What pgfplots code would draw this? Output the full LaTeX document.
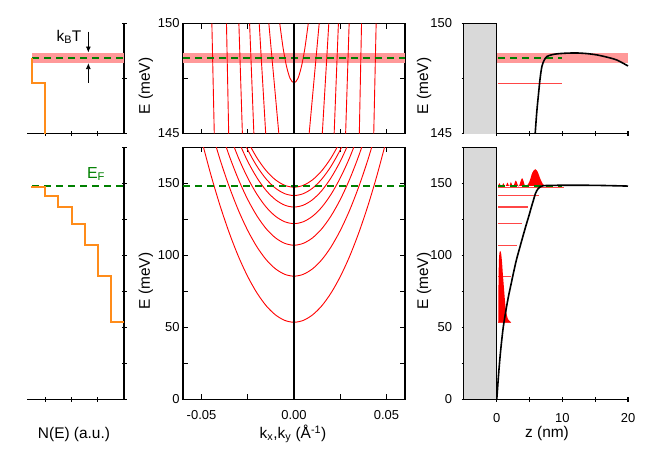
\documentclass[border=0pt]{standalone}
\usepackage{fontspec}
\setmainfont{Liberation Sans}
\usepackage{pgfplots}
\pgfplotsset{compat=1.18}
\usetikzlibrary{arrows.meta}

\definecolor{band}{RGB}{255,153,153}
\definecolor{fermi}{RGB}{0,128,0}
\definecolor{dos}{RGB}{255,140,26}
\definecolor{wall}{RGB}{217,217,217}
\definecolor{lvl}{RGB}{255,0,0}
\definecolor{lvlight}{RGB}{255,70,70}

\pgfplotsset{
  panel/.style={
    scale only axis,
    anchor=south west,
    tick style={black, line width=1.1bp},
    major tick length=5bp,
    tick align=inside,
    tick label style={font=\fontsize{13}{15}\selectfont},
    xticklabel style={yshift=-8bp},
    scaled ticks=false,
    /pgf/number format/assume math mode=true,
  },
  plainlines/.style={axis line style={-, line width=1.3bp}},
  ef/.style={draw=fermi, line width=2bp, dash pattern=on 7bp off 5bp},
  sub/.style={color=lvl, line width=0.9bp},
  lev/.style={draw=lvlight, line width=1.2bp},
}
\newcommand{\lab}{\fontsize{15.5}{18}\selectfont}

\begin{document}
\begin{tikzpicture}
\path[use as bounding box] (0,0) rectangle (654bp,-460bp);

% ---- top left: N(E) near E_F
\begin{axis}[panel, at={(27bp,-133.5bp)}, width=97bp, height=110bp,
  axis x line=bottom, axis y line=right, x dir=reverse,
  xmin=0, xmax=7.4, ymin=145, ymax=150,
  xtick={2,4,6}, xticklabels={}, ytick={145,147.5,150}, yticklabels={},
  plainlines]
\addplot[fill=band, draw=none] coordinates {(7,148.22) (0,148.22) (0,148.68) (7,148.68)} -- cycle;
\addplot[ef] coordinates {(7,148.45) (0,148.45)};
\addplot[draw=dos, line width=2bp] coordinates {(7,148.45) (7,147.3) (6,147.3) (6,144)};
\draw[-{Latex[length=6bp,width=5bp]}, line width=0.8bp] (axis cs:2.72,149.63) -- (axis cs:2.72,148.68);
\draw[-{Latex[length=6bp,width=5bp]}, line width=0.8bp] (axis cs:2.72,147.3) -- (axis cs:2.72,148.2);
\end{axis}

% ---- bottom left: N(E)
\begin{axis}[panel, at={(27bp,-399.3bp)}, width=97bp, height=252bp,
  axis x line=bottom, axis y line=right, x dir=reverse,
  xmin=0, xmax=7.4, ymin=0, ymax=175,
  xtick={2,4,6}, xticklabels={}, ytick={0,25,...,175}, yticklabels={},
  plainlines]
\addplot[ef] coordinates {(7,148.45) (0,148.45)};
\addplot[draw=dos, line width=2bp] coordinates {(0,53.5) (1,53.5) (1,85.5) (2,85.5) (2,107) (3,107)
  (3,122) (4,122) (4,133.5) (5,133.5) (5,141.5) (6,141.5) (6,147.3) (7,147.3) (7,148.45)};
\end{axis}

% ---- top middle: dispersion near E_F
\begin{axis}[panel, at={(183bp,-133.5bp)}, width=222bp, height=110bp,
  xmin=-0.06, xmax=0.06, ymin=145, ymax=150,
  xtick={-0.05,-0.025,0.025,0.05}, xticklabels={},
  ytick={145,147.5,150}, yticklabels={145,,150},
  plainlines]
\addplot[fill=band, draw=none] coordinates {(-0.06,148.22) (0.06,148.22) (0.06,148.68) (-0.06,148.68)} -- cycle;
\addplot[sub] coordinates {(-0.0431,145) (-0.0444,150)};
\addplot[sub] coordinates {(-0.0353,145) (-0.0365,150)};
\addplot[sub] coordinates {(-0.0279,145) (-0.0298,150)};
\addplot[sub] coordinates {(-0.0217,145) (-0.0240,150)};
\addplot[sub] coordinates {(-0.0153,145) (-0.0188,150)};
\addplot[sub] coordinates {(-0.0082,145) (-0.0136,150)};
\addplot[sub] coordinates {(0.0431,145) (0.0444,150)};
\addplot[sub] coordinates {(0.0353,145) (0.0365,150)};
\addplot[sub] coordinates {(0.0279,145) (0.0298,150)};
\addplot[sub] coordinates {(0.0217,145) (0.0240,150)};
\addplot[sub] coordinates {(0.0153,145) (0.0188,150)};
\addplot[sub] coordinates {(0.0082,145) (0.0136,150)};
\addplot[sub, smooth] coordinates {(-0.0077,150) (-0.0061,149) (-0.0051,148.5) (-0.0039,148)
  (-0.0021,147.5) (0,147.3) (0.0021,147.5) (0.0039,148) (0.0051,148.5) (0.0061,149) (0.0077,150)};
\addplot[ef] coordinates {(-0.06,148.45) (0.06,148.45)};
\addplot[draw=black, line width=1.3bp] coordinates {(0,145) (0,150)};
\end{axis}

% ---- bottom middle: subband dispersion
\begin{axis}[panel, at={(183bp,-399.3bp)}, width=222bp, height=252bp,
  xmin=-0.06, xmax=0.06, ymin=0, ymax=175,
  xtick={-0.05,-0.025,0,0.025,0.05}, xticklabels={-0.05,,0.00,,0.05},
  ytick={0,25,...,175}, yticklabels={0,,50,,100,,150,{}},
  plainlines]
\addplot[sub, smooth] coordinates {(-0.05,180.3) (-0.045,156.2) (-0.04,134.6) (-0.035,115.6) (-0.03,99.1)
  (-0.025,85.2) (-0.02,73.8) (-0.015,64.9) (-0.01,58.6) (-0.005,54.8) (0,53.5) (0.005,54.8) (0.01,58.6)
  (0.015,64.9) (0.02,73.8) (0.025,85.2) (0.03,99.1) (0.035,115.6) (0.04,134.6) (0.045,156.2) (0.05,180.3)};
\addplot[sub, smooth] coordinates {(-0.045,188.2) (-0.04,166.6) (-0.035,147.6) (-0.03,131.1) (-0.025,117.2)
  (-0.02,105.8) (-0.015,96.9) (-0.01,90.6) (-0.005,86.8) (0,85.5) (0.005,86.8) (0.01,90.6) (0.015,96.9)
  (0.02,105.8) (0.025,117.2) (0.03,131.1) (0.035,147.6) (0.04,166.6) (0.045,188.2)};
\addplot[sub, smooth] coordinates {(-0.04,188.1) (-0.035,169.1) (-0.03,152.6) (-0.025,138.7) (-0.02,127.3)
  (-0.015,118.4) (-0.01,112.1) (-0.005,108.3) (0,107) (0.005,108.3) (0.01,112.1) (0.015,118.4)
  (0.02,127.3) (0.025,138.7) (0.03,152.6) (0.035,169.1) (0.04,188.1)};
\addplot[sub, smooth] coordinates {(-0.035,184.1) (-0.03,167.6) (-0.025,153.7) (-0.02,142.3) (-0.015,133.4)
  (-0.01,127.1) (-0.005,123.3) (0,122) (0.005,123.3) (0.01,127.1) (0.015,133.4) (0.02,142.3)
  (0.025,153.7) (0.03,167.6) (0.035,184.1)};
\addplot[sub, smooth] coordinates {(-0.03,179.1) (-0.025,165.2) (-0.02,153.8) (-0.015,144.9) (-0.01,138.6)
  (-0.005,134.8) (0,133.5) (0.005,134.8) (0.01,138.6) (0.015,144.9) (0.02,153.8) (0.025,165.2) (0.03,179.1)};
\addplot[sub, smooth] coordinates {(-0.03,187.1) (-0.025,173.2) (-0.02,161.8) (-0.015,152.9) (-0.01,146.6)
  (-0.005,142.8) (0,141.5) (0.005,142.8) (0.01,146.6) (0.015,152.9) (0.02,161.8) (0.025,173.2) (0.03,187.1)};
\addplot[sub, smooth] coordinates {(-0.025,179.0) (-0.02,167.6) (-0.015,158.7) (-0.01,152.4) (-0.005,148.6)
  (0,147.3) (0.005,148.6) (0.01,152.4) (0.015,158.7) (0.02,167.6) (0.025,179.0)};
\addplot[ef] coordinates {(-0.06,148.45) (0.06,148.45)};
\addplot[draw=black, line width=1.3bp] coordinates {(0,0) (0,175)};
\end{axis}

% ---- top right: potential near E_F
\begin{axis}[panel, at={(464bp,-133.5bp)}, width=164bp, height=110bp,
  axis x line=bottom, axis y line=left, clip=false,
  xmin=-5, xmax=20, ymin=145, ymax=150,
  xtick={0,5,10,15,20}, xticklabels={},
  ytick={145,147.5,150}, yticklabels={145,,150}, yticklabel style={xshift=-6bp},
  plainlines]
\addplot[fill=wall, draw=none] coordinates {(-5,145) (0,145) (0,150) (-5,150)} -- cycle;
\addplot[draw=black, line width=1.3bp] coordinates {(-5,150) (0,150) (0,145)};
\addplot[fill=band, draw=none] coordinates {(0,148.22) (20,148.22) (20,148.68) (0,148.68)} -- cycle;
\addplot[lev] coordinates {(0.2,147.27) (10,147.27)};
\addplot[ef] coordinates {(0.2,148.45) (10,148.45)};
\addplot[draw=black, line width=1.6bp, smooth] coordinates {(5.85,145) (6.1,146) (6.36,146.8) (6.6,147.5)
  (6.87,148.04) (7.2,148.32) (7.63,148.5) (8.4,148.58) (9.16,148.62) (10.5,148.65) (12.2,148.66)
  (13.8,148.63) (15.3,148.57) (16.8,148.47) (18.3,148.34) (20,148.07)};
\end{axis}

% ---- bottom right: potential, subbands, wave functions
\begin{axis}[panel, at={(464bp,-399.3bp)}, width=164bp, height=252bp,
  axis x line=bottom, axis y line=left, clip=false,
  xmin=-5, xmax=20, ymin=0, ymax=175,
  xtick={0,5,10,15,20}, xticklabels={0,,10,,20},
  ytick={0,25,...,175}, yticklabels={0,,50,,100,,150,{}}, yticklabel style={xshift=-6bp},
  plainlines]
\addplot[fill=wall, draw=none] coordinates {(-5,0) (0,0) (0,175) (-5,175)} -- cycle;
\addplot[draw=black, line width=1.3bp] coordinates {(-5,175) (0,175) (0,0)};
\addplot[lev] coordinates {(0.2,53.5) (2.2,53.5)};
\addplot[lev] coordinates {(0.2,85.5) (2.2,85.5)};
\addplot[lev] coordinates {(0.2,107) (3.05,107)};
\addplot[lev] coordinates {(0.2,122) (3.8,122)};
\addplot[lev] coordinates {(0.2,133.5) (4.73,133.5)};
\addplot[lev] coordinates {(0.2,141.5) (6.36,141.5)};
\addplot[lev] coordinates {(0.2,147.3) (10.2,147.3)};
\addplot[fill=lvl, draw=none, smooth] coordinates {(0.22,53.5) (0.26,80) (0.32,96) (0.42,102) (0.55,103)
  (0.68,100.5) (0.8,95) (0.91,87.8) (1.11,76.2) (1.32,64.5) (1.55,58) (1.8,55) (2.2,53.5)} -- cycle;
\addplot[fill=lvl, draw=none, smooth, tension=0.5] coordinates {(0.2,148.2) (0.4,150.1) (0.6,148.2)
  (0.8,148.2) (1.0,150.1) (1.2,148.2) (1.4,148.2) (1.62,150.5) (1.85,148.2) (1.95,148.2) (2.14,150.8)
  (2.4,148.2) (2.55,148.2) (2.9,151.9) (3.25,148.2) (3.4,148.2) (3.86,153.6) (4.3,148.3) (4.6,148.4)
  (5.0,151.5) (5.4,157.2) (5.85,159.8) (6.25,157.8) (6.6,153.5) (7.0,149.6) (7.4,148.3) (7.6,148.2)} -- cycle;
\addplot[ef] coordinates {(0.2,148.45) (10,148.45)};
\addplot[draw=black, line width=1.6bp, smooth] coordinates {(0,0) (0.25,16) (0.5,29.7) (0.75,41) (1.0,50.6)
  (1.4,62) (1.78,71.5) (2.2,80.5) (2.54,87.8) (3.0,97) (3.56,106.3) (4.0,113.5) (4.47,121) (4.9,127.5)
  (5.24,133) (5.6,138.5) (5.9,143) (6.3,146.3) (6.87,148.04) (7.63,148.5) (10,148.64) (13,148.65)
  (16,148.5) (20,148.07)};
\end{axis}

% ---- labels
\node at (69bp,-37bp) {\lab k\textsubscript{B}T};
\node[text=fermi] at (96bp,-174bp) {\fontsize{16}{18}\selectfont E\textsubscript{F}};
\node at (74bp,-434bp) {\lab N(E) (a.u.)};
\node at (293bp,-434bp) {\lab k\textsubscript{x},k\textsubscript{y} (Å\textsuperscript{-1})};
\node at (547bp,-433bp) {\lab z (nm)};
\node[rotate=90] at (146bp,-86bp) {\lab E (meV)};
\node[rotate=90] at (146bp,-281bp) {\lab E (meV)};
\node[rotate=90] at (424bp,-86bp) {\lab E (meV)};
\node[rotate=90] at (424bp,-281bp) {\lab E (meV)};
\end{tikzpicture}
\end{document}
